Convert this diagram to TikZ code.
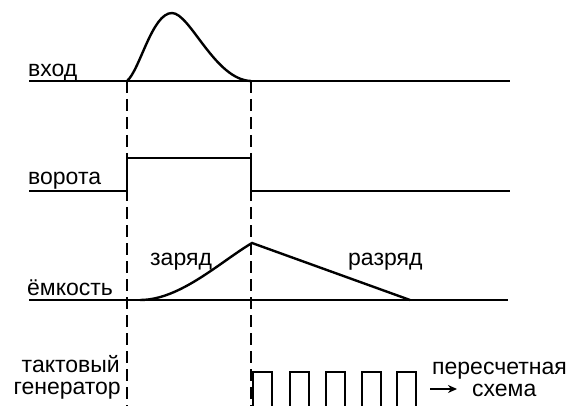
\documentclass[tikz,border=0pt]{standalone}
\usepackage{fontspec}
\setmainfont{Liberation Sans}
\usetikzlibrary{arrows.meta}
\begin{document}
\begin{tikzpicture}[x=1pt,y=-1pt,
  thin line/.style={line width=1.4pt},
  thick curve/.style={line width=2.4pt},
  guide/.style={line width=1.4pt, dash pattern=on 12pt off 6pt},
  lbl/.style={inner sep=0pt, text height=12pt, text depth=4pt, font=\fontsize{23}{24}\selectfont}]
\useasboundingbox (0,0) rectangle (570,406);
% coordinates
\coordinate (t1) at (127,81);
\coordinate (t2) at (251,81);
\coordinate (b1) at (127,406);
\coordinate (b2) at (251,406);
% input
\draw[thin line] (29,81) -- (510,81);
\draw[thick curve] (t1) .. controls (140,70) and (152,13) .. (172,13)
   .. controls (190,13) and (215,80) .. (t2);
% guides
\draw[guide] (t1) -- (b1);
\draw[guide] (t2) -- (b2);
% gate
\draw[thin line] (29,191) -- (127,191) -- (127,158) -- (251,158) -- (251,191) -- (510,191);
% capacitance
\draw[thin line] (29,300) -- (508,300);
\coordinate (cpk) at (252,243);
\draw[thick curve] (140,300) .. controls (180,300) and (220,262) .. (cpk) -- (410,300);
% clock
\foreach \x in {253,290,326,362,397}{
  \draw[thin line] (\x,406) -- (\x,372) -- (\x+19,372) -- (\x+19,406);
}
% arrow
\coordinate (a0) at (430,389);
\coordinate (a1) at (457,389);
\draw[line width=2.2pt,-{Stealth[length=9pt,width=8pt]}] (a0) -- (a1);
% labels
\node[lbl, anchor=base west] (lin) at (28,77) {вход};
\node[lbl, anchor=base west] (lgate) at (28,185) {ворота};
\node[lbl, anchor=base west] (lcap) at (27,295) {ёмкость};
\node[lbl, anchor=base west] (lchg) at (150,265) {заряд};
\node[lbl, anchor=base west] (ldis) at (348,265) {разряд};
\node[lbl, anchor=base east] (lclk1) at (120,372) {тактовый};
\node[lbl, anchor=base east] (lclk2) at (121,394) {генератор};
\node[lbl, anchor=base west] (lcnt1) at (432,374) {пересчетная};
\node[lbl, anchor=base west] (lcnt2) at (472,396) {схема};
\end{tikzpicture}
\end{document}
